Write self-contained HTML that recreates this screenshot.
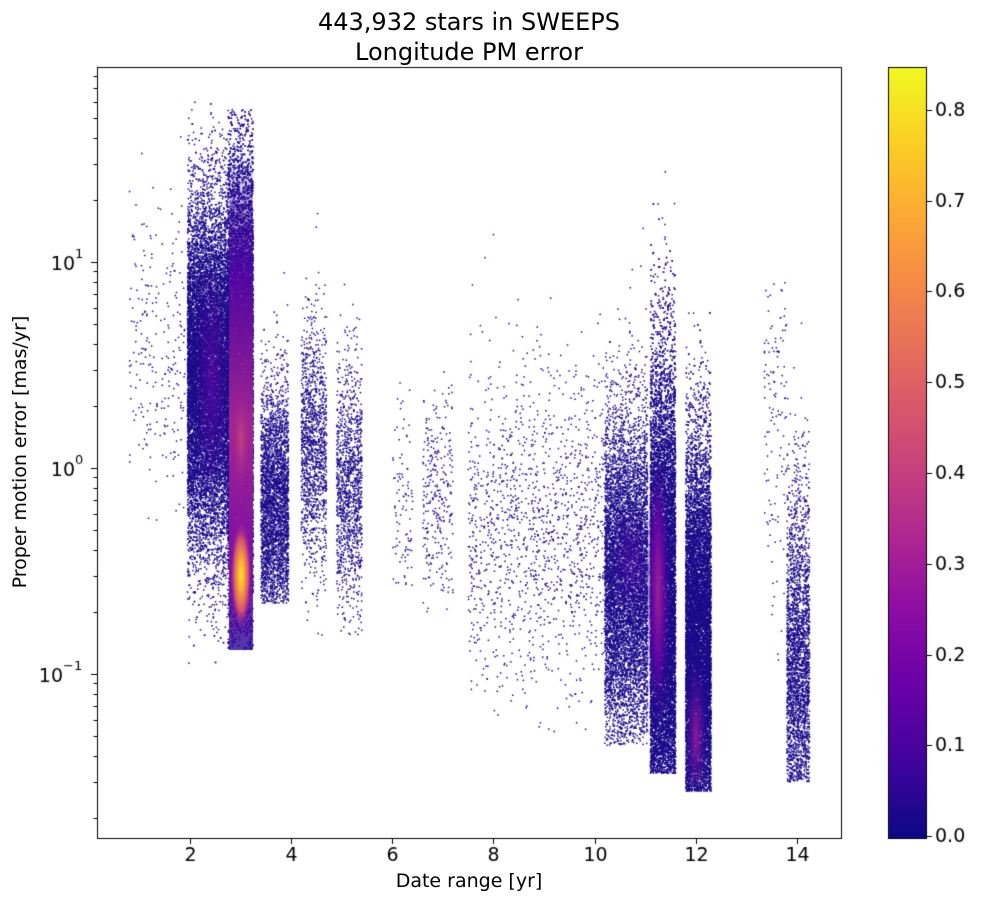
<!DOCTYPE html>
<html><head><meta charset="utf-8"><style>
body{margin:0;background:#fff;width:981px;height:903px;overflow:hidden;font-family:"DejaVu Sans",sans-serif;position:relative}
.t{position:absolute;color:#000;white-space:nowrap}
canvas{position:absolute;left:0;top:0}
</style></head><body>
<canvas id="c" width="981" height="903"></canvas>
<div class="t" style="left:0;width:938px;text-align:center;top:7px;font-size:24px;line-height:30px">443,932 stars in SWEEPS<br>Longitude PM error</div>
<div class="t" style="left:0;width:938px;text-align:center;top:870px;font-size:19px">Date range [yr]</div>
<div class="t" style="left:20px;top:452px;font-size:19px;transform:translate(-50%,-50%) rotate(-90deg);transform-origin:center">Proper motion error [mas/yr]</div>
<script>
const c=document.getElementById('c').getContext('2d');
const L=97,R=841,T=67,B=838;
const px=x=>190+(x-2)*50.58, py=v=>468-206*Math.log10(v);
let s=12345;const rnd=()=>{s=(s*1103515245+12345)%2147483648;return s/2147483648};
const gauss=()=>{let u=rnd()||1e-9,v=rnd();return Math.sqrt(-2*Math.log(u))*Math.cos(2*Math.PI*v)};
c.save();c.beginPath();c.rect(L,T,R-L,B-T);c.clip();
c.fillStyle='#1c0b8a';
function col(n,x0,x1,mu,sd,lo,hi){for(let i=0;i<n;i++){let x=x0+rnd()*(x1-x0);let l=mu+sd*gauss();if(l<Math.log10(lo)||l>Math.log10(hi))continue;c.fillRect(px(x)-0.7,py(Math.pow(10,l))-0.7,1.5,1.5);}}
col(250,0.8,1.9,0.6,0.35,0.5,50);
col(14000,1.95,2.75,0.45,0.42,0.11,60);
col(16000,2.75,3.25,0.4,0.55,0.13,55);
col(3500,3.4,3.95,-0.2,0.3,0.22,20);
col(1400,4.2,4.7,0.1,0.3,0.15,25);
col(1300,4.9,5.4,-0.1,0.3,0.15,17);
col(100,6,6.4,-0.15,0.25,0.25,5);
col(300,6.6,7.2,-0.15,0.25,0.2,10);
col(1400,7.5,10.2,-0.3,0.4,0.05,20);
col(8000,10.2,11.05,-0.55,0.4,0.045,15);
col(16000,11.1,11.6,-0.7,0.6,0.033,28);
col(14000,11.8,12.3,-0.9,0.5,0.027,6);
col(150,13.35,13.8,0.3,0.5,0.04,8);
col(3000,13.8,14.25,-1,0.45,0.03,7);
function blob(x,y,rx,ry,stops,cl){c.save();if(cl){c.beginPath();c.rect(cl[0],cl[1],cl[2],cl[3]);c.clip();}c.translate(x,y);c.scale(rx/ry,1);let g=c.createRadialGradient(0,0,0,0,0,ry);stops.forEach(a=>g.addColorStop(a[0],a[1]));c.fillStyle=g;c.beginPath();c.arc(0,0,ry,0,7);c.fill();c.restore();}
let g=c.createLinearGradient(0,150,0,650);
g.addColorStop(0,'rgba(40,6,150,0)');g.addColorStop(0.25,'rgba(90,4,165,0.8)');g.addColorStop(0.55,'rgba(170,40,145,0.95)');g.addColorStop(0.85,'rgba(120,10,165,0.95)');g.addColorStop(1,'rgba(40,6,150,0.8)');
c.fillStyle=g;c.fillRect(229,150,24,500);
blob(241,575,11,55,[[0,'#fbe62a'],[0.3,'#fba838'],[0.65,'#d5546e'],[1,'rgba(140,15,160,0)']]);
blob(241,440,11,60,[[0,'rgba(205,75,118,0.85)'],[1,'rgba(140,15,160,0)']]);
blob(212,380,18,130,[[0,'rgba(100,5,165,0.7)'],[1,'rgba(60,4,150,0)']]);
blob(658,590,12,140,[[0,'rgba(165,35,150,0.95)'],[0.5,'rgba(110,5,165,0.8)'],[1,'rgba(50,4,150,0)']],[645,300,40,470]);
blob(696,735,12,80,[[0,'rgba(150,25,155,0.95)'],[1,'rgba(50,4,150,0)']],[680,400,40,385]);
blob(630,560,20,60,[[0,'rgba(80,4,160,0.6)'],[1,'rgba(50,4,150,0)']]);
c.restore();
c.strokeStyle='#000';c.lineWidth=1;c.strokeRect(L+0.5,T+0.5,R-L,B-T);
c.fillStyle='#000';c.font='19px "DejaVu Sans"';c.textAlign='center';c.textBaseline='top';
for(let x=2;x<=14;x+=2){let X=Math.round(px(x))+0.5;c.beginPath();c.moveTo(X,B);c.lineTo(X,B+6);c.stroke();c.fillText(x,X,B+9);}
c.textAlign='right';c.textBaseline='middle';
[[1],[0],[-1]].forEach(([e])=>{let Y=Math.round(py(Math.pow(10,e)))+0.5;c.beginPath();c.moveTo(L,Y);c.lineTo(L-6,Y);c.stroke();c.font='19px "DejaVu Sans"';c.fillText('10',e==-1?L-34:L-22,Y+3);c.font='13px "DejaVu Sans"';c.textAlign='left';c.fillText(e==-1?'−1':e,e==-1?L-34:L-22,Y-8);c.textAlign='right';});
for(let e=-2;e<=1;e++)for(let m=2;m<=9;m++){let v=m*Math.pow(10,e);let Y=py(v);if(Y<T||Y>B)continue;Y=Math.round(Y)+0.5;c.beginPath();c.moveTo(L,Y);c.lineTo(L-3.5,Y);c.stroke();}
const cx=888,cw=38,ct=67,cb=838;
let cg=c.createLinearGradient(0,cb,0,ct);
const pl=['#0d0887','#41049d','#6a00a8','#8f0da4','#b12a90','#cc4778','#e16462','#f2844b','#fca636','#fcce25','#f0f921'];
pl.forEach((k,i)=>cg.addColorStop(i/10,k));
c.fillStyle=cg;c.fillRect(cx,ct,cw,cb-ct);c.strokeRect(cx+0.5,ct+0.5,cw,cb-ct);
c.fillStyle='#000';c.textAlign='left';c.font='19px "DejaVu Sans"';
for(let i=0;i<=8;i++){let Y=Math.round(836-i*0.1/0.8*726)+0.5;c.beginPath();c.moveTo(cx+cw,Y);c.lineTo(cx+cw+6,Y);c.stroke();c.fillText((i/10).toFixed(1),cx+cw+9,Y+1);}
</script>
</body></html>
